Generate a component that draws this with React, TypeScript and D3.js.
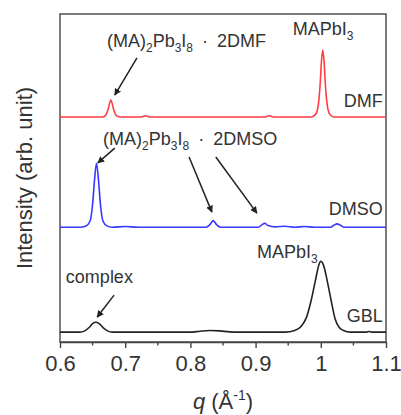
import { useEffect, useRef } from "react";
import * as d3 from "d3";

// q (1/Å) and intensity above each trace's own baseline
const gblPoints: [number, number][] = [
  [0.6, 0], [0.63, 0], [0.638, 0.04], [0.645, 0.15], [0.65, 0.26], [0.655, 0.3], [0.66, 0.26],
  [0.666, 0.14], [0.673, 0.04], [0.68, 0], [0.8, 0], [0.815, 0.03], [0.83, 0.05], [0.845, 0.04],
  [0.86, 0.01], [0.875, 0], [0.945, 0], [0.96, 0.05], [0.97, 0.18], [0.978, 0.45], [0.985, 0.95],
  [0.992, 1.6], [0.997, 2.05], [1.0, 2.16], [1.004, 2.05], [1.01, 1.55], [1.016, 0.95],
  [1.022, 0.4], [1.028, 0.15], [1.035, 0.05], [1.045, 0], [1.07, 0], [1.074, 0.02], [1.078, 0], [1.1, 0],
];
const dmsoPoints: [number, number][] = [
  [0.6, 0], [0.63, 0], [0.64, 0.04], [0.646, 0.18], [0.65, 0.7], [0.653, 1.45], [0.656, 1.95],
  [0.659, 1.45], [0.662, 0.7], [0.666, 0.18], [0.672, 0.04], [0.68, 0], [0.7, 0.02], [0.72, 0],
  [0.824, 0], [0.83, 0.08], [0.835, 0.2], [0.84, 0.08], [0.846, 0], [0.904, 0], [0.91, 0.08],
  [0.914, 0.12], [0.919, 0.05], [0.93, 0.01], [0.945, 0.03], [0.96, 0], [0.975, 0.02], [0.99, 0],
  [1.015, 0], [1.02, 0.06], [1.025, 0.1], [1.03, 0.06], [1.036, 0], [1.1, 0],
];
const dmfPoints: [number, number][] = [
  [0.6, 0], [0.665, 0], [0.67, 0.05], [0.674, 0.25], [0.678, 0.52], [0.682, 0.25], [0.686, 0.05],
  [0.692, 0], [0.725, 0], [0.731, 0.04], [0.737, 0], [0.915, 0], [0.921, 0.04], [0.927, 0],
  [0.985, 0], [0.992, 0.08], [0.996, 0.35], [0.999, 1.0], [1.001, 1.7], [1.003, 2.04],
  [1.005, 1.7], [1.007, 1.0], [1.01, 0.35], [1.014, 0.08], [1.02, 0], [1.1, 0],
];

const seriesNames = ["GBL", "DMSO", "DMF"];
const seriesOffsets = [0.3, 3.5, 6.86];
const seriesColors = ["#222222", "#3838ff", "#ff3d42"];
const seriesData = [gblPoints, dmsoPoints, dmfPoints];
// where the series name sits: [q, intensity]
const seriesLabelPos: [number, number][] = [[1.095, 0.61], [1.095, 3.87], [1.095, 7.16]];

const majorTicks = [0.6, 0.7, 0.8, 0.9, 1.0, 1.1];
const minorTicks = [0.65, 0.75, 0.85, 0.95, 1.05];

// arrows: [qFrom, iFrom, qTo, iTo]
const arrows: [number, number, number, number][] = [
  [0.718, 8.66, 0.684, 7.53],
  [0.684, 5.91, 0.658, 5.46],
  [0.798, 5.64, 0.833, 3.96],
  [0.839, 5.64, 0.902, 3.93],
  [0.683, 1.43, 0.657, 0.76],
];

// annotation pieces: [text, isSubscript]
type Seg = [string, boolean];
const dmfComplex: Seg[] = [["(MA)", false], ["2", true], ["Pb", false], ["3", true], ["I", false], ["8", true], ["\u2002·\u20022DMF", false]];
const dmsoComplex: Seg[] = [["(MA)", false], ["2", true], ["Pb", false], ["3", true], ["I", false], ["8", true], ["\u2002·\u20022DMSO", false]];
const mapbi3: Seg[] = [["MAPbI", false], ["3", true]];

export default function App() {
  const svgRef = useRef<SVGSVGElement>(null);
  const width = 401;
  const height = 415;
  const margin = { left: 60, right: 15, top: 14, bottom: 73 };

  useEffect(() => {
    const svg = d3.select(svgRef.current);
    svg.selectAll("*").remove();

    const x = d3.scaleLinear().domain([0.6, 1.1]).range([margin.left, width - margin.right]);
    const y = d3.scaleLinear().domain([0, 10]).range([height - margin.bottom, margin.top]);
    const font = "'Liberation Sans', Arial, sans-serif";
    const ink = "#333";

    svg.append("defs").append("marker")
      .attr("id", "arr")
      .attr("viewBox", "0 0 10 10")
      .attr("refX", 9).attr("refY", 5)
      .attr("markerWidth", 7).attr("markerHeight", 7)
      .attr("markerUnits", "userSpaceOnUse")
      .attr("orient", "auto")
      .append("path").attr("d", "M0,0 L10,5 L0,10 z").attr("fill", "#222");

    // frame
    svg.append("rect")
      .attr("x", x(0.6)).attr("y", y(10))
      .attr("width", x(1.1) - x(0.6)).attr("height", y(0) - y(10))
      .attr("fill", "none").attr("stroke", "#444").attr("stroke-width", 1.4);

    // bottom axis
    const xAxis = svg.append("g")
      .attr("transform", `translate(0,${y(0)})`)
      .call(d3.axisBottom(x).tickValues(majorTicks).tickSize(6).tickSizeOuter(0)
        .tickFormat((d) => d3.format("")(+(+d).toFixed(1))));
    xAxis.select(".domain").attr("stroke", "#444").attr("stroke-width", 1.4);
    xAxis.selectAll(".tick line").attr("stroke", "#444").attr("stroke-width", 1.4);
    xAxis.selectAll(".tick text")
      .attr("font-family", font).attr("font-size", 22).attr("fill", ink).attr("y", 13)
      .attr("dy", "0.71em");
    svg.append("g").selectAll("line").data(minorTicks).join("line")
      .attr("x1", (d) => x(d)).attr("x2", (d) => x(d))
      .attr("y1", y(0)).attr("y2", y(0) + 3.5)
      .attr("stroke", "#444").attr("stroke-width", 1.4);

    // traces
    const line = d3.line<[number, number]>().curve(d3.curveMonotoneX);
    seriesData.forEach((pts, i) => {
      line.x((d) => x(d[0])).y((d) => y(d[1] + seriesOffsets[i]));
      svg.append("path")
        .attr("d", line(pts))
        .attr("fill", "none")
        .attr("stroke", seriesColors[i])
        .attr("stroke-width", 1.6)
        .attr("stroke-linejoin", "round");
      svg.append("text")
        .attr("x", x(seriesLabelPos[i][0])).attr("y", y(seriesLabelPos[i][1]))
        .attr("text-anchor", "end")
        .attr("font-family", font).attr("font-size", 18).attr("fill", ink)
        .text(seriesNames[i]);
    });

    // arrows
    svg.append("g").selectAll("line").data(arrows).join("line")
      .attr("x1", (d) => x(d[0])).attr("y1", (d) => y(d[1]))
      .attr("x2", (d) => x(d[2])).attr("y2", (d) => y(d[3]))
      .attr("stroke", "#222").attr("stroke-width", 1.5)
      .attr("marker-end", "url(#arr)");

    const label = (q: number, v: number, segs: Seg[]) => {
      const t = svg.append("text")
        .attr("x", x(q)).attr("y", y(v))
        .attr("font-family", font).attr("font-size", 18).attr("fill", ink);
      let down = false;
      segs.forEach(([s, isSub]) => {
        const ts = t.append("tspan").text(s);
        if (isSub && !down) { ts.attr("dy", 5).attr("font-size", 12); down = true; }
        else if (isSub) ts.attr("font-size", 12);
        else if (down) { ts.attr("dy", -5); down = false; }
      });
    };
    label(0.672, 8.99, dmfComplex);
    label(0.666, 6.01, dmsoComplex);
    label(0.957, 9.36, mapbi3);
    label(0.902, 2.56, mapbi3);
    label(0.609, 1.8, [["complex", false]]);

    // axis titles
    const xt = svg.append("text")
      .attr("x", (x(0.6) + x(1.1)) / 2).attr("y", 409)
      .attr("text-anchor", "middle")
      .attr("font-family", font).attr("font-size", 22).attr("fill", ink);
    xt.append("tspan").attr("font-style", "italic").text("q");
    xt.append("tspan").text(" (Å");
    xt.append("tspan").attr("font-size", 14).attr("dy", -9).text("-1");
    xt.append("tspan").attr("dy", 9).text(")");

    svg.append("text")
      .attr("transform", `translate(32,${(y(0) + y(10)) / 2}) rotate(-90)`)
      .attr("text-anchor", "middle")
      .attr("font-family", font).attr("font-size", 22).attr("fill", ink)
      .text("Intensity (arb. unit)");
  }, []);

  return (
    <div style={{ position: "absolute", left: 0, top: 0 }}>
      <svg ref={svgRef} width={width} height={height} style={{ display: "block", background: "#fff" }} />
    </div>
  );
}
